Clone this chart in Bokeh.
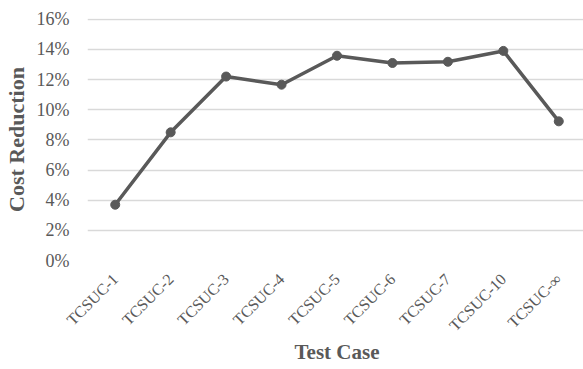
import math
from bokeh.plotting import figure
from bokeh.models import FactorRange, Range1d, NumeralTickFormatter, FixedTicker
from bokeh.embed import file_html
from bokeh.resources import INLINE

categories = ["TCSUC-1", "TCSUC-2", "TCSUC-3", "TCSUC-4", "TCSUC-5",
              "TCSUC-6", "TCSUC-7", "TCSUC-10", "TCSUC-\u221e"]
cost_reduction = [0.037, 0.085, 0.122, 0.1166, 0.1358, 0.131, 0.1318, 0.139, 0.0923]
y_ticks = [0, 0.02, 0.04, 0.06, 0.08, 0.10, 0.12, 0.14, 0.16]

GRAY = "#595959"
FONT = "Liberation Serif"

p = figure(frame_width=499, frame_height=242, x_range=FactorRange(*categories, range_padding=0),
           y_range=Range1d(0, 0.1605), output_backend="svg", toolbar_location=None,
           min_border_left=76, min_border_right=0, min_border_top=18, min_border_bottom=0)
p.outline_line_color = None
p.background_fill_color = "white"

p.line(categories, cost_reduction, line_color=GRAY, line_width=3.5)
p.scatter(categories, cost_reduction, size=9, fill_color=GRAY, line_color=GRAY)

p.yaxis.ticker = FixedTicker(ticks=y_ticks)
p.yaxis.formatter = NumeralTickFormatter(format="0%")
p.ygrid.grid_line_color = "#d9d9d9"
p.ygrid.grid_line_width = 1.3
p.xgrid.grid_line_color = None

for ax in (p.xaxis, p.yaxis):
    ax.axis_line_color = None
    ax.major_tick_line_color = None
    ax.minor_tick_line_color = None
    ax.major_label_text_font = FONT
    ax.major_label_text_color = GRAY
    ax.axis_label_text_font = FONT
    ax.axis_label_text_color = GRAY
    ax.axis_label_text_font_style = "bold"

p.yaxis.major_label_text_font_size = "18px"
p.yaxis.major_label_standoff = 12
p.yaxis.axis_label = "Cost Reduction"
p.yaxis.axis_label_text_font_size = "22px"
p.yaxis.axis_label_standoff = 5

p.xaxis.major_label_text_font_size = "16px"
p.xaxis.major_label_orientation = math.pi / 4
p.xaxis.major_label_standoff = 10
p.xaxis.axis_label = "Test Case"
p.xaxis.axis_label_text_font_size = "21px"
p.xaxis.axis_label_standoff = -3

open("out.html", "w").write(file_html(p, INLINE))
